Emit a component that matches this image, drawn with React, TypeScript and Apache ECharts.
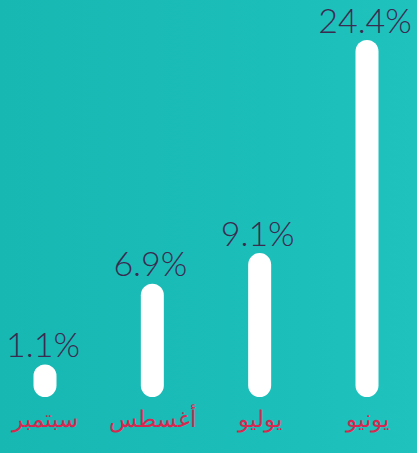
import React, { useEffect, useRef } from "react";
import * as echarts from "echarts";

const categories = ["سبتمبر", "أغسطس", "يوليو", "يونيو"];
const values = [1.1, 6.9, 9.1, 24.4];
const AXIS_MIN = -1.24;
const AXIS_MAX = 24.4;

export default function App() {
  const ref = useRef<HTMLDivElement>(null);
  useEffect(() => {
    document.body.style.margin = "0";
    const chart = echarts.init(ref.current!, undefined, { renderer: "svg" });
    chart.setOption({
      animation: false,
      backgroundColor: {
        type: "linear",
        x: 0,
        y: 0,
        x2: 1,
        y2: 0,
        colorStops: [
          { offset: 0, color: "#17b7b2" },
          { offset: 1, color: "#1fc2bd" },
        ],
      },
      grid: { left: 45, right: 50, top: 40, bottom: 56 },
      xAxis: {
        type: "category",
        data: categories,
        boundaryGap: false,
        axisLine: { show: false },
        axisTick: { show: false },
        axisLabel: {
          interval: 0,
          hideOverlap: false,
          color: "#d6294f",
          fontSize: 23,
          fontFamily: "Noto Sans",
          margin: 9,
        },
      },
      yAxis: {
        type: "value",
        min: AXIS_MIN,
        max: AXIS_MAX,
        show: false,
        splitLine: { show: false },
      },
      series: [
        {
          type: "custom",
          data: values.map((v, i) => [i, v]),
          renderItem: (params: any, api: any) => {
            const i = api.value(0);
            const v = api.value(1);
            const top = api.coord([i, v]);
            const bottom = api.coord([i, AXIS_MIN]);
            const w = 23;
            return {
              type: "group",
              children: [
                {
                  type: "rect",
                  shape: {
                    x: top[0] - w / 2,
                    y: top[1],
                    width: w,
                    height: bottom[1] - top[1],
                    r: w / 2,
                  },
                  style: { fill: "#ffffff" },
                },
                {
                  type: "text",
                  style: {
                    text: v + "%",
                    x: top[0] - 2,
                    y: top[1] - 4,
                    align: "center",
                    verticalAlign: "bottom",
                    fill: "#3b2b50",
                    fontSize: 34,
                    fontWeight: 300,
                    fontFamily: "Lato",
                  },
                },
              ],
            };
          },
        },
      ],
    });
    return () => chart.dispose();
  }, []);
  return (
    <div
      ref={ref}
      style={{ position: "absolute", left: 0, top: 0, width: 417, height: 453 }}
    />
  );
}
